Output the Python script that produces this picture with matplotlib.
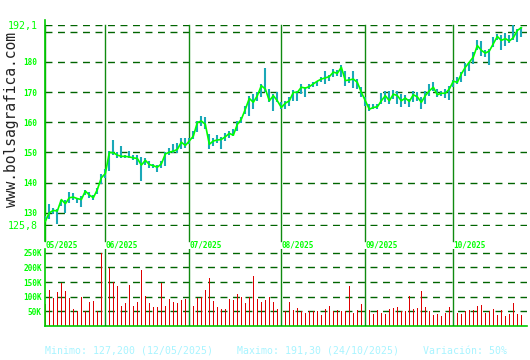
import matplotlib
matplotlib.use("Agg")
import matplotlib.pyplot as plt

# Daily closes, 12/05/2025 .. 24/10/2025 (one value per trading day)
close = [
    127.2, 130.0, 130.8, 130.6, 134.4, 133.0, 135.0, 135.2, 134.7, 134.4, 137.2, 135.9, 135.0, 137.7, 141.6,
    143.0, 150.0, 149.9, 149.1, 148.7, 148.7, 148.5, 148.2, 148.0, 145.8, 147.4, 146.0, 145.6, 145.1, 146.2,
    149.5, 150.1, 150.4, 151.0, 153.4, 152.3,
    153.8, 155.4, 159.9, 160.4, 159.3, 152.7, 153.8, 154.1, 154.3, 155.2, 156.3, 155.7, 159.3, 161.0, 164.3,
    167.9, 166.6, 168.8, 172.1, 171.0, 167.1, 168.8, 167.1,
    164.9, 166.3, 167.1, 169.9, 169.9, 171.6, 171.3, 171.8, 172.7, 173.6, 174.3, 174.7, 175.1, 176.6, 176.2,
    178.2, 173.8, 174.0, 174.3, 173.2, 169.9,
    167.1, 164.3, 164.9, 165.1, 167.1, 168.8, 167.1, 169.3, 168.8, 167.1, 168.0, 166.9, 169.1, 168.4, 166.6,
    168.8, 170.4, 171.6, 169.1, 169.6, 169.6, 171.0,
    173.6, 173.2, 176.0, 178.2, 179.9, 181.6, 185.4, 183.8, 182.9, 183.6, 186.0, 188.4, 187.1, 187.7, 186.9,
    188.0, 190.4, 191.3,
]
high = [
    129.0, 132.8, 131.5, 131.2, 134.4, 134.4, 137.0, 136.6, 135.0, 135.5, 137.7, 137.0, 135.9, 138.3, 142.7,
    144.4, 150.4, 154.0, 150.2, 152.1, 149.3, 150.4, 149.1, 149.1, 148.5, 148.2, 147.1, 146.2, 146.0, 147.1,
    150.0, 151.6, 152.7, 153.2, 154.9, 154.9,
    154.9, 157.1, 160.4, 162.1, 161.6, 156.0, 154.9, 155.7, 155.2, 156.3, 157.1, 157.7, 160.4, 161.6, 165.4,
    168.8, 169.3, 169.9, 172.7, 177.9, 171.0, 169.3, 170.1,
    166.6, 167.1, 168.2, 170.7, 170.4, 172.7, 171.6, 172.7, 173.2, 173.8, 175.1, 177.1, 175.8, 177.7, 177.3,
    179.1, 177.1, 174.9, 177.1, 174.3, 171.6,
    168.2, 166.0, 166.0, 166.2, 169.6, 170.4, 170.4, 170.7, 170.2, 169.3, 169.1, 167.7, 170.2, 169.9, 168.4,
    170.2, 172.7, 173.2, 171.0, 170.4, 171.0, 172.1,
    174.0, 174.9, 176.6, 179.6, 179.9, 183.2, 187.1, 186.9, 183.8, 184.3, 188.2, 189.3, 188.8, 189.6, 188.8,
    192.1, 191.0, 191.6,
]
low = [
    127.0, 128.1, 129.5, 126.2, 132.2, 130.0, 133.3, 134.4, 133.3, 132.0, 135.9, 135.0, 134.4, 136.3, 139.4,
    141.6, 144.0, 149.3, 148.2, 148.2, 148.0, 148.2, 147.4, 146.0, 140.7, 146.0, 144.9, 144.9, 143.6, 144.9,
    145.5, 149.3, 149.9, 149.9, 151.0, 151.6,
    152.7, 154.3, 156.6, 158.8, 157.7, 151.0, 152.1, 153.0, 151.2, 153.8, 154.9, 155.4, 157.1, 159.9, 162.7,
    162.1, 164.3, 167.1, 168.2, 169.9, 166.6, 163.8, 166.6,
    164.3, 164.3, 165.4, 167.1, 167.1, 169.3, 168.2, 171.0, 171.6, 172.1, 173.2, 172.7, 173.8, 175.1, 175.4,
    175.1, 172.1, 172.9, 171.3, 171.0, 168.2,
    165.4, 163.8, 164.3, 164.3, 166.0, 166.6, 166.0, 167.7, 166.0, 164.9, 166.0, 164.9, 166.6, 167.1, 164.3,
    166.0, 168.8, 170.4, 168.2, 168.8, 168.0, 167.3,
    171.6, 172.7, 173.2, 175.4, 177.1, 179.3, 183.8, 181.8, 181.6, 178.8, 184.9, 187.3, 183.8, 185.4, 186.2,
    187.1, 186.6, 188.2,
]
# volume in thousands
volume = [
    76, 124, 96, 117, 146, 121, 96, 59, 50, 98, 50, 82, 85, 50, 248,
    82, 199, 150, 138, 68, 78, 140, 68, 82, 191, 101, 78, 65, 65, 146, 68, 93, 82, 78, 88, 91,
    74, 68, 96, 98, 124, 163, 85, 65, 59, 59, 91, 88, 108, 98, 78, 98, 170, 93, 82, 88, 98, 82, 59,
    93, 50, 82, 55, 62, 50, 46, 50, 50, 50, 39, 59, 68, 50, 55, 50, 50, 138, 46, 55, 76,
    50, 55, 42, 55, 46, 42, 59, 62, 65, 52, 52, 104, 59, 62, 121, 65, 50, 39, 42, 33, 46, 65,
    55, 46, 42, 52, 55, 55, 68, 72, 46, 52, 59, 39, 55, 33, 42, 78, 42, 36,
]

month_labels = ["05/2025", "06/2025", "07/2025", "08/2025", "09/2025", "10/2025"]
month_start = [0, 15, 36, 59, 80, 102]  # index of first trading day of each month

price_ticks = [130, 140, 150, 160, 170, 180]
price_min, price_max = 125.8, 192.1
vol_ticks = [50, 100, 150, 200, 250]
vol_labels = ["50K", "100K", "150K", "200K", "250K"]

x = list(range(len(close)))

LIME = "#00ff00"
AXIS = "#00cc00"
GRID = "#006400"
VLINE = "#108a10"
MONO = "DejaVu Sans Mono"

fig = plt.figure(figsize=(5.3, 3.6), dpi=100)
fig.patch.set_facecolor("white")

ax = fig.add_axes([44.5 / 530, (360 - 225.5) / 360, (527 - 44.5) / 530, 200.2 / 360])
axv = fig.add_axes([44.5 / 530, (360 - 326) / 360, (527 - 44.5) / 530, 77 / 360])

xlim = (-0.21, -0.21 + (527 - 44.5) / 4)

# ---- price panel ----
for a in (ax, axv):
    for s in a.spines.values():
        s.set_visible(False)
    a.set_xlim(*xlim)
    a.set_xticks([])
    a.tick_params(axis="y", length=0)

for lvl in price_ticks + [190, price_min, price_max]:
    ax.axhline(lvl, color=GRID, lw=1, ls=(0, (5, 4)), zorder=1)

for m in month_start:
    ax.axvline(m, ymin=-0.075, ymax=1, color=VLINE, lw=1, clip_on=False, zorder=1)
ax.plot([0, 0], [-0.075, 1.025], transform=ax.transAxes, color=AXIS, lw=1.2, clip_on=False)

ax.vlines(x, low, high, color="#1aa8b8", lw=1.5, zorder=2)
ax.plot(x, close, color=LIME, lw=1.2, zorder=3)
ax.set_ylim(price_min, price_max)

ax.set_yticks(price_ticks + [price_min, price_max])
ax.set_yticklabels([str(t) for t in price_ticks] + ["125,8", "192,1"])
for lab in ax.get_yticklabels():
    big = lab.get_text() in ("125,8", "192,1")
    lab.set_fontfamily(MONO)
    lab.set_color(LIME)
    lab.set_fontsize(7.2 if big else 5.6)
    lab.set_fontweight("normal" if big else "bold")
ax.tick_params(axis="y", pad=5)

for m, lab in zip(month_start, month_labels):
    ax.text(m, -0.095, lab, transform=ax.get_xaxis_transform(), color=LIME,
            fontsize=5.6, fontweight="bold", family=MONO, ha="left", va="center")

# ---- volume panel ----
for lvl in vol_ticks:
    axv.axhline(lvl, color=GRID, lw=1, ls=(0, (5, 4)), zorder=1)
for m in month_start[1:]:
    axv.axvline(m, ymin=0, ymax=1, color=VLINE, lw=1, zorder=3)
axv.bar(x, volume, width=0.3, color="#dd0000", zorder=2)
axv.set_ylim(0, 263)
axv.plot([0, 0], [0, 1], transform=axv.transAxes, color=AXIS, lw=1.2, clip_on=False)
axv.plot([0, 1], [0, 0], transform=axv.transAxes, color=AXIS, lw=1.2, clip_on=False)
axv.set_yticks(vol_ticks)
axv.set_yticklabels(vol_labels)
for lab in axv.get_yticklabels():
    lab.set_fontfamily(MONO)
    lab.set_color(LIME)
    lab.set_fontsize(5.6)
    lab.set_fontweight("bold")
axv.tick_params(axis="y", pad=2)

# watermark and footer
fig.text(12 / 530, 1 - 120 / 360, "www.bolsagrafica.com", rotation=90, color="#222222",
         fontsize=10.5, family=MONO, ha="center", va="center")
fig.text(45 / 530, 1 - 351 / 360,
         "Minimo: 127,200 (12/05/2025)    Maximo: 191,30 (24/10/2025)    Variación: 50%",
         color="#a8f4ff", fontsize=7.1, family=MONO, ha="left", va="center")

fig.savefig("out.png", dpi=100)
